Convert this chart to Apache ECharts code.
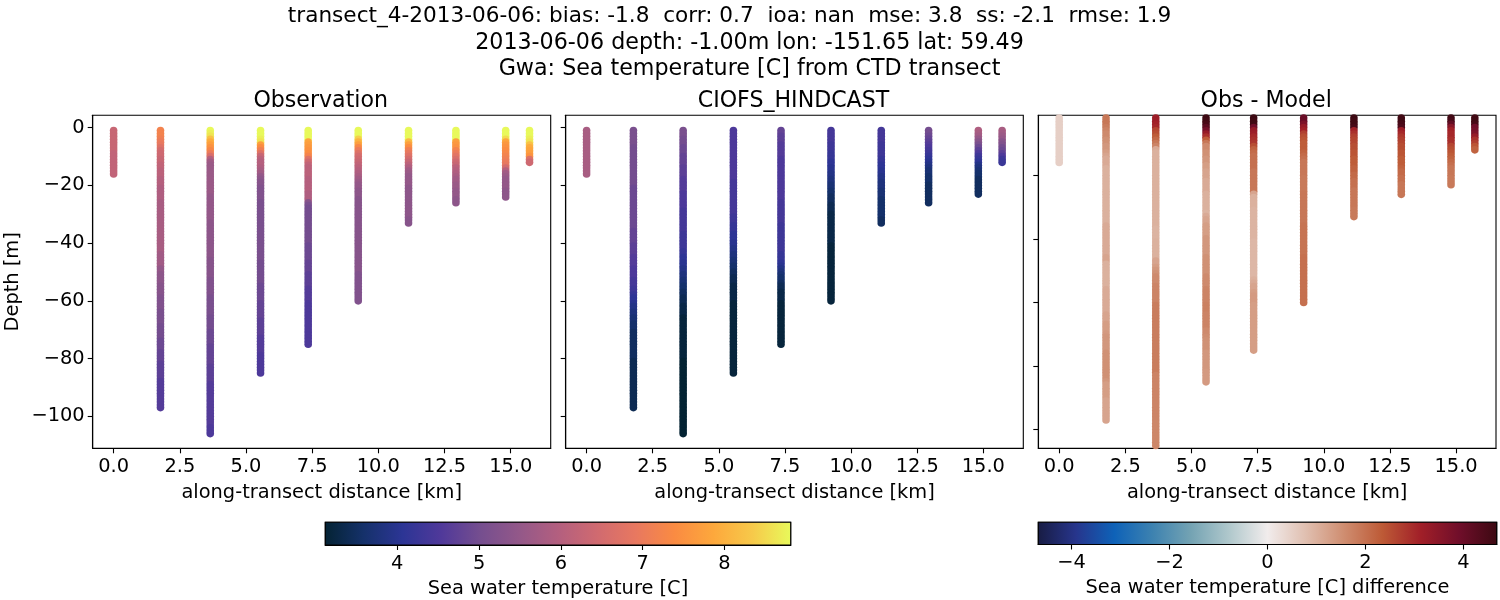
<!DOCTYPE html>
<html><head><meta charset="utf-8">
<script src="https://cdn.jsdelivr.net/npm/echarts@6/dist/echarts.min.js"></script>
<style>html,body{margin:0;background:#fff}#c{width:1500px;height:600px}</style></head>
<body><div id="c"></div>
<script>
const titleLines = ['transect_4-2013-06-06: bias: -1.8  corr: 0.7  ioa: nan  mse: 3.8  ss: -2.1  rmse: 1.9','2013-06-06 depth: -1.00m lon: -151.65 lat: 59.49','Gwa: Sea temperature [C] from CTD transect'];
const panelTitles = ['Observation','CIOFS_HINDCAST','Obs - Model'];
const castDistanceKm = [0,1.77,3.65,5.55,7.35,9.24,11.14,12.93,14.81,15.71];
const xTicks = [0,2.5,5,7.5,10,12.5,15];
const yTicks = [0,-20,-40,-60,-80,-100];
const diffYTicks = [-20,-40,-60,-80,-100];
const tempTicks = [4,5,6,7,8];
const diffTicks = [-4,-2,0,2,4];
const thermal = ['#042333','#15316a','#2c3595','#50399a','#754e8f','#935889','#b35f7f','#d06a70','#e87860','#fa8b42','#fda83c','#f7c94a','#e8fa5b'];
const balance = ['#181c43','#27358c','#0e62b8','#3d82b0','#74a3b3','#b0c8cc','#f1ecec','#e0bfb0','#cf8d70','#bd5a36','#a11f28','#700e2a','#3c0912'];
// each profile lists one value per metre, from 1 m down
const obsProfiles = [
[6.3,6.3,6.3,6.3,6.3,6.3,6.3,6.3,6.2,6.2,6.2,6.2,6.2,6.2,6.2,6.2],
[7.2,7.2,7.2,7.1,7.0,6.9,6.7,6.5,6.4,6.4,6.3,6.3,6.2,6.2,6.1,6.1,6.1,6.0,6.0,6.0,5.9,5.9,5.9,5.9,5.9,5.8,5.8,5.8,5.8,5.8,5.8,5.8,5.8,5.8,5.8,5.8,5.8,5.8,5.8,5.8,5.8,5.8,5.8,5.7,5.7,5.7,5.7,5.7,5.5,5.5,5.4,5.4,5.4,5.4,5.3,5.3,5.3,5.3,5.2,5.2,5.2,5.2,5.2,5.1,5.1,5.1,5.1,5.1,5.0,5.0,5.0,5.0,5.0,4.9,4.9,4.9,4.9,4.8,4.8,4.8,4.8,4.7,4.7,4.7,4.7,4.7,4.7,4.6,4.6,4.6,4.6,4.6,4.6,4.6,4.6,4.6,4.6],
[8.8,8.7,8.6,8.2,7.9,7.7,7.5,7.3,7.0,6.6,6.0,5.7,5.6,5.6,5.6,5.6,5.6,5.6,5.6,5.6,5.6,5.6,5.6,5.5,5.5,5.5,5.5,5.5,5.5,5.5,5.5,5.5,5.4,5.4,5.4,5.4,5.4,5.4,5.4,5.4,5.4,5.4,5.4,5.4,5.4,5.3,5.3,5.3,5.3,5.3,5.3,5.3,5.2,5.2,5.2,5.2,5.2,5.2,5.1,5.1,5.1,5.1,5.1,5.1,5.1,5.0,5.0,5.0,5.0,5.0,4.9,4.9,4.9,4.9,4.9,4.8,4.8,4.8,4.8,4.8,4.8,4.8,4.7,4.7,4.7,4.7,4.7,4.7,4.6,4.6,4.6,4.6,4.6,4.6,4.6,4.6,4.6,4.6,4.6,4.6,4.6,4.6,4.6,4.5,4.5,4.5],
[8.8,8.8,8.8,8.7,8.6,7.7,7.4,7.1,6.7,6.3,6.1,6.0,6.0,5.9,5.8,5.7,5.5,5.4,5.3,5.3,5.2,5.2,5.2,5.2,5.2,5.1,5.1,5.1,5.1,5.1,5.1,5.1,5.1,5.1,5.1,5.1,5.1,5.1,5.1,5.1,5.1,5.1,5.1,5.1,5.1,5.1,5.0,5.0,5.0,5.0,5.0,5.0,5.0,5.0,4.9,4.9,4.9,4.9,4.9,4.9,4.8,4.8,4.8,4.8,4.8,4.8,4.7,4.7,4.7,4.7,4.7,4.7,4.6,4.6,4.6,4.6,4.6,4.6,4.5,4.5,4.5,4.5,4.5,4.5,4.5],
[8.8,8.8,8.8,8.8,7.8,7.7,7.6,7.5,7.4,7.2,6.7,6.4,6.2,6.1,6.1,6.1,6.1,6.0,6.0,6.0,6.0,6.0,5.9,5.9,5.9,5.3,5.1,5.0,5.0,5.0,5.0,5.0,5.0,5.0,5.0,5.0,5.0,5.0,5.0,5.0,4.9,4.9,4.9,4.9,4.9,4.9,4.8,4.8,4.8,4.8,4.7,4.7,4.7,4.7,4.7,4.6,4.6,4.6,4.6,4.6,4.5,4.5,4.5,4.5,4.5,4.5,4.5,4.5,4.5,4.5,4.5,4.5,4.5,4.5,4.5],
[8.8,8.8,8.8,8.4,8.0,7.7,7.3,7.0,6.7,6.5,6.4,6.3,6.2,6.1,6.0,5.9,5.8,5.7,5.6,5.5,5.5,5.4,5.4,5.4,5.3,5.3,5.3,5.3,5.3,5.3,5.3,5.3,5.3,5.3,5.3,5.3,5.3,5.3,5.3,5.3,5.3,5.3,5.3,5.3,5.3,5.3,5.3,5.3,5.3,5.3,5.2,5.2,5.2,5.2,5.2,5.2,5.2,5.2,5.2,5.2],
[8.8,8.8,8.8,8.8,8.1,7.7,7.4,7.1,6.9,6.7,6.5,6.3,6.1,5.9,5.7,5.6,5.5,5.5,5.5,5.5,5.4,5.4,5.4,5.4,5.4,5.4,5.4,5.4,5.4,5.4,5.4,5.3,5.3],
[8.8,8.8,8.8,8.8,7.7,7.6,7.5,7.2,7.0,6.8,6.6,6.4,6.3,6.1,6.0,5.9,5.8,5.7,5.7,5.6,5.6,5.5,5.5,5.5,5.4,5.4],
[8.8,8.8,8.8,8.5,7.8,7.6,7.5,7.4,7.3,7.2,7.1,7.0,6.9,6.5,6.0,5.7,5.6,5.5,5.5,5.5,5.5,5.4,5.4,5.4],
[8.8,8.8,8.8,8.7,8.6,8.2,7.9,7.8,7.7,7.5,6.7,6.4]
];
const modelProfiles = [
[5.8,5.8,5.8,5.8,5.8,5.8,5.8,5.8,5.8,5.8,5.8,5.8,5.8,5.8,5.8,5.8],
[5.1,5.1,5.1,5.1,5.1,5.1,5.0,5.0,5.0,5.0,5.0,5.0,5.0,5.0,5.0,5.0,5.0,5.0,5.0,5.0,4.9,4.9,4.9,4.9,4.9,4.9,4.9,4.9,4.9,4.9,4.9,4.9,4.9,4.9,4.9,4.8,4.8,4.8,4.8,4.8,4.7,4.7,4.7,4.7,4.6,4.6,4.6,4.6,4.5,4.5,4.5,4.5,4.4,4.4,4.4,4.3,4.3,4.2,4.1,4.1,4.0,3.9,3.9,3.8,3.8,3.7,3.7,3.6,3.6,3.6,3.5,3.5,3.5,3.5,3.5,3.5,3.5,3.5,3.5,3.5,3.4,3.4,3.4,3.4,3.4,3.4,3.4,3.4,3.4,3.4,3.4,3.4,3.4,3.4,3.4,3.4,3.4],
[5.1,5.1,5.1,5.0,5.0,5.0,4.9,4.9,4.9,4.8,4.8,4.8,4.8,4.7,4.7,4.7,4.7,4.6,4.6,4.6,4.6,4.6,4.5,4.5,4.5,4.5,4.5,4.5,4.4,4.4,4.4,4.4,4.4,4.4,4.4,4.4,4.3,4.3,4.3,4.3,4.3,4.3,4.2,4.2,4.1,4.1,4.0,4.0,3.9,3.9,3.8,3.8,3.7,3.7,3.6,3.6,3.5,3.5,3.4,3.4,3.4,3.3,3.3,3.3,3.3,3.2,3.2,3.2,3.2,3.2,3.2,3.2,3.2,3.2,3.2,3.2,3.2,3.2,3.2,3.2,3.1,3.1,3.1,3.1,3.1,3.1,3.1,3.1,3.1,3.1,3.1,3.1,3.1,3.1,3.1,3.1,3.1,3.1,3.1,3.1,3.1,3.1,3.1,3.1,3.1,3.1],
[4.5,4.5,4.5,4.5,4.5,4.5,4.5,4.5,4.5,4.5,4.5,4.5,4.5,4.5,4.5,4.5,4.5,4.5,4.4,4.4,4.4,4.4,4.4,4.4,4.4,4.4,4.4,4.4,4.4,4.4,4.3,4.3,4.3,4.2,4.2,4.2,4.1,4.1,4.1,4.0,4.0,3.9,3.9,3.8,3.8,3.7,3.7,3.6,3.6,3.5,3.5,3.4,3.4,3.4,3.3,3.3,3.3,3.3,3.3,3.3,3.2,3.2,3.2,3.2,3.2,3.2,3.2,3.2,3.2,3.2,3.2,3.2,3.2,3.2,3.2,3.2,3.2,3.2,3.2,3.2,3.2,3.2,3.2,3.2,3.2],
[4.8,4.8,4.7,4.7,4.7,4.6,4.6,4.6,4.6,4.6,4.5,4.5,4.5,4.5,4.5,4.5,4.5,4.5,4.5,4.5,4.5,4.5,4.5,4.5,4.5,4.4,4.4,4.4,4.4,4.4,4.4,4.4,4.4,4.3,4.3,4.3,4.3,4.3,4.3,4.3,4.3,4.3,4.3,4.2,4.2,4.2,4.1,4.0,3.9,3.8,3.7,3.6,3.6,3.5,3.4,3.4,3.3,3.3,3.3,3.3,3.2,3.2,3.2,3.2,3.2,3.2,3.2,3.2,3.2,3.2,3.2,3.2,3.2,3.2,3.2],
[4.4,4.4,4.4,4.4,4.4,4.3,4.3,4.3,4.2,4.2,4.2,4.1,4.1,4.0,4.0,3.9,3.9,3.8,3.8,3.7,3.7,3.6,3.6,3.5,3.5,3.5,3.4,3.4,3.4,3.3,3.3,3.3,3.3,3.3,3.3,3.3,3.3,3.3,3.3,3.3,3.2,3.2,3.2,3.2,3.2,3.2,3.2,3.2,3.2,3.2,3.2,3.2,3.2,3.2,3.2,3.2,3.2,3.2,3.2,3.2],
[4.4,4.4,4.4,4.4,4.4,4.3,4.3,4.3,4.3,4.3,4.2,4.2,4.1,4.1,4.0,4.0,3.9,3.9,3.8,3.8,3.8,3.7,3.7,3.7,3.6,3.6,3.6,3.6,3.6,3.6,3.6,3.5,3.5],
[5.0,5.0,4.9,4.8,4.7,4.6,4.5,4.4,4.3,4.2,4.1,4.0,3.9,3.8,3.7,3.7,3.6,3.6,3.6,3.5,3.5,3.5,3.5,3.5,3.5,3.5],
[5.9,5.8,5.7,5.5,5.3,5.1,4.9,4.7,4.5,4.3,4.2,4.1,3.9,3.8,3.7,3.6,3.6,3.5,3.5,3.5,3.5,3.5,3.5],
[5.8,5.7,5.6,5.5,5.3,5.2,5.0,4.9,4.7,4.5,4.3,4.25]
];
const diffProfiles = [
[0.5,0.5,0.5,0.5,0.5,0.5,0.5,0.5,0.5,0.5,0.5,0.5,0.5,0.5,0.5,0.5],
[1.9,1.9,1.9,1.9,1.8,1.7,1.6,1.6,1.5,1.5,1.4,1.4,1.3,1.2,1.1,1.1,1.1,1.0,1.0,1.0,1.0,1.0,1.0,1.0,1.0,1.0,1.0,1.0,1.0,1.0,1.0,1.0,1.0,1.0,1.0,1.1,1.1,1.1,1.1,1.1,1.1,1.1,1.1,1.1,1.1,1.2,1.2,1.0,1.0,1.0,1.0,1.0,1.0,1.0,1.0,1.1,1.1,1.1,1.1,1.1,1.1,1.1,1.1,1.2,1.2,1.2,1.3,1.3,1.3,1.35,1.4,1.4,1.4,1.4,1.4,1.5,1.5,1.5,1.5,1.5,1.5,1.5,1.5,1.5,1.4,1.3,1.3,1.3,1.3,1.3,1.2,1.2,1.2,1.2,1.2,1.2,1.2],
[3.2,3.2,3.2,3.1,3.0,2.6,2.5,2.3,2.1,1.9,1.7,1.1,1.0,1.0,1.0,1.0,1.0,1.0,1.0,1.0,1.0,1.0,1.0,1.0,1.0,1.0,1.0,1.0,1.0,1.0,1.0,1.0,1.0,1.0,1.0,1.0,0.95,0.95,0.95,0.95,1.0,1.0,1.0,1.0,1.0,1.0,1.2,1.2,1.3,1.4,1.5,1.6,1.6,1.6,1.7,1.7,1.7,1.7,1.7,1.7,1.8,1.8,1.8,1.8,1.8,1.8,1.8,1.8,1.8,1.8,1.8,1.8,1.8,1.8,1.8,1.8,1.8,1.8,1.8,1.8,1.8,1.8,1.7,1.7,1.7,1.7,1.7,1.7,1.7,1.7,1.7,1.7,1.7,1.7,1.7,1.7,1.7,1.65,1.65,1.65,1.65,1.65,1.65,1.65,1.65,1.65],
[4.7,4.7,4.6,4.5,4.2,3.8,3.3,2.9,2.3,1.9,1.6,1.6,1.5,1.5,1.4,1.4,1.3,1.3,1.2,1.2,1.2,1.1,1.1,1.1,1.1,1.0,1.0,1.0,1.0,1.0,1.0,0.95,1.1,1.2,1.2,1.3,1.3,1.3,1.3,1.4,1.4,1.4,1.4,1.4,1.4,1.5,1.5,1.5,1.5,1.5,1.5,1.6,1.6,1.6,1.6,1.7,1.7,1.7,1.7,1.7,1.75,1.75,1.75,1.7,1.7,1.7,1.7,1.7,1.6,1.6,1.55,1.5,1.5,1.5,1.5,1.4,1.4,1.4,1.4,1.4,1.4,1.35,1.35,1.35,1.35],
[4.7,4.7,4.6,4.6,3.9,3.3,3.2,3.0,2.9,2.8,2.5,2.2,2.1,2.0,2.0,2.0,2.0,2.0,1.9,1.9,1.9,1.9,1.9,1.9,1.9,1.2,1.0,1.0,1.0,1.0,0.95,0.95,0.95,0.95,0.95,0.95,0.95,0.95,0.95,0.95,0.9,0.9,0.9,0.9,0.9,0.9,0.9,0.9,0.9,0.9,0.9,0.9,1.0,1.1,1.2,1.2,1.3,1.35,1.35,1.35,1.3,1.3,1.3,1.3,1.3,1.3,1.3,1.3,1.3,1.3,1.3,1.3,1.3,1.3,1.3],
[4.1,4.0,4.0,3.7,3.3,3.1,2.7,2.5,2.4,2.3,2.3,2.3,2.2,2.1,2.0,1.9,1.9,1.9,1.9,1.9,1.85,1.85,1.85,1.85,1.85,1.9,1.9,1.9,1.9,1.9,1.9,1.9,1.9,1.9,1.9,1.95,1.95,1.95,1.95,1.95,1.95,1.95,1.95,1.95,1.95,2.0,2.0,2.0,2.0,2.0,2.0,2.0,2.0,2.0,2.0,2.0,2.0,2.0,2.0,2.0],
[4.7,4.7,4.6,4.6,4.5,3.1,2.9,2.7,2.6,2.6,2.5,2.5,2.4,2.4,2.3,2.3,2.3,2.2,2.2,2.1,2.1,2.0,2.0,2.0,1.9,1.9,1.9,1.9,1.9,1.9,1.85,1.85,1.85],
[4.7,4.6,4.6,4.5,4.4,3.2,3.0,2.8,2.7,2.6,2.5,2.5,2.4,2.4,2.3,2.3,2.3,2.2,2.1,2.1,2.0,2.0,1.9,1.9,1.9,1.9],
[4.7,4.6,4.5,4.1,3.5,3.1,3.0,3.0,2.9,2.9,2.6,2.5,2.4,2.3,2.2,2.1,2.0,1.9,1.9,1.9,1.85,1.85,1.85],
[4.7,4.6,4.6,4.5,3.9,3.8,3.7,3.3,2.9,2.7,2.4,2.2]
];

const FONT = 'DejaVu Sans', TXT = '#000', FS = 19.4;
const panelBoxes = [[92.7,458],[565.7,457.6],[1038.3,457.7]];
const panelTop = 115.3, panelH = 333;
const xRange = [-0.79,16.51];
const yRanges = [[-111.1,4.3],[-111.1,4.3],[-105.9,-1.13]];
const tempRange = [3.12,8.81], diffRange = [-4.68,4.68];
const titleCenters = [729.5,749.5,749.5];
const titleSizes = [21.6,22.2,22.2];

function points(profiles){
  const out = [];
  profiles.forEach((p,c)=>p.forEach((v,i)=>out.push([castDistanceKm[c],-(i+1),v])));
  return out;
}
const minus = v => String(v).replace('-','\u2212');
const grids = panelBoxes.map(b=>({left:b[0],width:b[1],top:panelTop,height:panelH,show:true,borderColor:'#000',borderWidth:1.1,backgroundColor:'#fff'}));
grids.push({left:325.3,width:465.4,top:522.3,height:22.7,show:true,borderColor:'#000',borderWidth:1.1});
grids.push({left:1038.3,width:458.4,top:522.3,height:22.2,show:true,borderColor:'#000',borderWidth:1.1});

const tickStyle = {show:true,length:5,lineStyle:{color:'#000',width:1.1}};
const axisLineStyle = {show:true,onZero:false,lineStyle:{color:'#000',width:1.1}};
const nameStyle = {fontFamily:FONT,fontSize:FS,color:TXT};
function xAxisFor(i){
  return {type:'value',gridIndex:i,min:xRange[0],max:xRange[1],splitLine:{show:false},axisLine:axisLineStyle,
    axisTick:Object.assign({customValues:xTicks},tickStyle),
    axisLabel:{customValues:xTicks,formatter:v=>v.toFixed(1),fontFamily:FONT,fontSize:FS,color:TXT,margin:9},
    name:'along-transect distance [km]',nameLocation:'middle',nameGap:35,nameTextStyle:nameStyle};
}
function yAxisFor(i){
  const ticks = i===2?diffYTicks:yTicks;
  return {type:'value',gridIndex:i,min:yRanges[i][0],max:yRanges[i][1],splitLine:{show:false},axisLine:axisLineStyle,
    axisTick:Object.assign({customValues:ticks},tickStyle),
    axisLabel:i===0?{customValues:ticks,formatter:minus,fontFamily:FONT,fontSize:FS,color:TXT,margin:8,padding:[2,0,0,0]}:{show:false},
    name:i===0?'Depth [m]':'',nameLocation:'middle',nameGap:70,nameTextStyle:nameStyle};
}
function barAxis(i,range,ticks,name){
  return {type:'value',gridIndex:i,min:range[0],max:range[1],splitLine:{show:false},axisLine:axisLineStyle,
    axisTick:Object.assign({customValues:ticks},tickStyle),
    axisLabel:{customValues:ticks,formatter:minus,fontFamily:FONT,fontSize:FS,color:TXT,margin:9},
    name:name,nameLocation:'middle',nameGap:34,nameTextStyle:nameStyle};
}
function scatter(i,profiles){
  return {type:'scatter',xAxisIndex:i,yAxisIndex:i,data:points(profiles),symbol:'circle',symbolSize:7.6,clip:true,
    silent:true,animation:false,progressive:0,large:false,encode:{x:0,y:1},itemStyle:{opacity:1}};
}
function colorBar(i,range,colors){
  return {type:'custom',xAxisIndex:i,yAxisIndex:i,silent:true,animation:false,clip:false,data:[[range[0],range[1]]],
    encode:{x:[0,1]},
    renderItem(params,api){
      const a = api.coord([api.value(0),1]), b = api.coord([api.value(1),0]);
      const stops = colors.map((c,k)=>({offset:k/(colors.length-1),color:c}));
      return {type:'rect',shape:{x:a[0],y:a[1],width:b[0]-a[0],height:b[1]-a[1]},
        style:{fill:new echarts.graphic.LinearGradient(0,0,1,0,stops),stroke:'#000',lineWidth:1.1}};
    }};
}
const centers = panelBoxes.map(b=>b[0]+b[1]/2-1);
const titles = titleLines.map((t,i)=>({text:t,left:titleCenters[i],top:5.5+i*26.6,padding:0,textAlign:'center',
    textStyle:{fontFamily:FONT,fontSize:titleSizes[i],fontWeight:'normal',color:TXT}}));
panelTitles.forEach((t,i)=>titles.push({text:t,left:centers[i],top:90,padding:0,textAlign:'center',
    textStyle:{fontFamily:FONT,fontSize:22.1,fontWeight:'normal',color:TXT}}));
const chart = echarts.init(document.getElementById('c'),null,{renderer:'canvas'});
chart.setOption({
  animation:false,backgroundColor:'#fff',title:titles,grid:grids,
  xAxis:[xAxisFor(0),xAxisFor(1),xAxisFor(2),barAxis(3,tempRange,tempTicks,'Sea water temperature [C]'),barAxis(4,diffRange,diffTicks,'Sea water temperature [C] difference')],
  yAxis:[yAxisFor(0),yAxisFor(1),yAxisFor(2),
    {type:'value',gridIndex:3,min:0,max:1,show:false},{type:'value',gridIndex:4,min:0,max:1,show:false}],
  visualMap:[
    {type:'continuous',show:false,dimension:2,seriesIndex:[0,1],min:tempRange[0],max:tempRange[1],inRange:{color:thermal}},
    {type:'continuous',show:false,dimension:2,seriesIndex:[2],min:diffRange[0],max:diffRange[1],inRange:{color:balance}}
  ],
  series:[scatter(0,obsProfiles),scatter(1,modelProfiles),scatter(2,diffProfiles),colorBar(3,tempRange,thermal),colorBar(4,diffRange,balance)]
});
</script></body></html>
